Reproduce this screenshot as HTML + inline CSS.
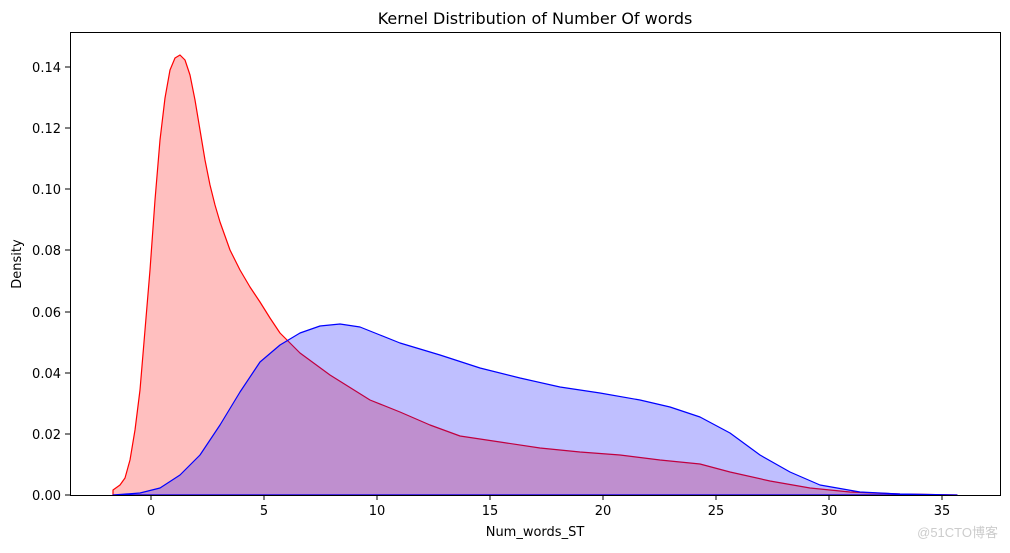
<!DOCTYPE html>
<html><head><style>body{margin:0;background:#fff}</style></head><body>
<svg width="1010" height="548" xmlns="http://www.w3.org/2000/svg" font-family="DejaVu Sans, Liberation Sans, sans-serif">
<rect width="1010" height="548" fill="#fff"/>
<g stroke-linejoin="round">
<path d="M113,495 L113,490 L120,485 L125,478 L130,460 L135,430 L140,390 L145,330 L150,270 L155,200 L160,140 L165,98 L170,70 L175,58 L180,55 L185,60 L190,75 L195,100 L200,130 L205,160 L210,185 L215,205 L220,222 L230,250 L240,270 L250,287 L260,302 L270,318 L280,333 L300,353 L330,375 L370,400 L400,412 L430,425 L460,436 L500,442 L540,448 L580,452 L620,455 L660,460 L700,464 L730,472 L770,481 L810,488 L850,492 L900,494 L957,495 Z" fill="rgba(255,0,0,0.25)" stroke="red" stroke-width="1.2"/>
<path d="M113,495 L140,493 L160,488 L180,475 L200,455 L220,425 L240,392 L260,362 L280,345 L300,333 L320,326 L340,324 L360,327 L380,335 L400,343 L440,355 L480,368 L520,378 L560,387 L600,393 L640,400 L670,407 L700,417 L730,433 L760,455 L790,472 L820,485 L860,492 L900,494 L957,495 Z" fill="rgba(0,0,255,0.25)" stroke="blue" stroke-width="1.2"/>
</g>
<rect x="70.5" y="32.5" width="930" height="463" fill="none" stroke="#000" stroke-width="1"/>
<g stroke="#000">
<line x1="151" y1="495" x2="151" y2="500"/><line x1="264" y1="495" x2="264" y2="500"/><line x1="377" y1="495" x2="377" y2="500"/><line x1="490" y1="495" x2="490" y2="500"/><line x1="603" y1="495" x2="603" y2="500"/><line x1="716" y1="495" x2="716" y2="500"/><line x1="829" y1="495" x2="829" y2="500"/><line x1="942" y1="495" x2="942" y2="500"/>
<line x1="65" y1="495" x2="70" y2="495"/><line x1="65" y1="434" x2="70" y2="434"/><line x1="65" y1="373" x2="70" y2="373"/><line x1="65" y1="312" x2="70" y2="312"/><line x1="65" y1="250" x2="70" y2="250"/><line x1="65" y1="189" x2="70" y2="189"/><line x1="65" y1="128" x2="70" y2="128"/><line x1="65" y1="67" x2="70" y2="67"/>
</g>
<g font-size="13" fill="#000" text-anchor="middle">
<text x="151" y="515">0</text><text x="264" y="515">5</text><text x="377" y="515">10</text><text x="490" y="515">15</text><text x="603" y="515">20</text><text x="716" y="515">25</text><text x="829" y="515">30</text><text x="942" y="515">35</text>
</g>
<g font-size="13" fill="#000" text-anchor="end">
<text x="61" y="500">0.00</text><text x="61" y="439">0.02</text><text x="61" y="378">0.04</text><text x="61" y="317">0.06</text><text x="61" y="255">0.08</text><text x="61" y="194">0.10</text><text x="61" y="133">0.12</text><text x="61" y="72">0.14</text>
</g>
<text x="535" y="536" font-size="13" text-anchor="middle">Num_words_ST</text>
<text transform="translate(21,264) rotate(-90)" font-size="13" text-anchor="middle">Density</text>
<text x="535" y="24" font-size="16" text-anchor="middle">Kernel Distribution of Number Of words</text>
<text x="998" y="537" font-size="13" fill="#ccc" text-anchor="end" font-family="Liberation Sans, Noto Sans CJK SC, sans-serif">@51CTO博客</text>
</svg>
</body></html>
